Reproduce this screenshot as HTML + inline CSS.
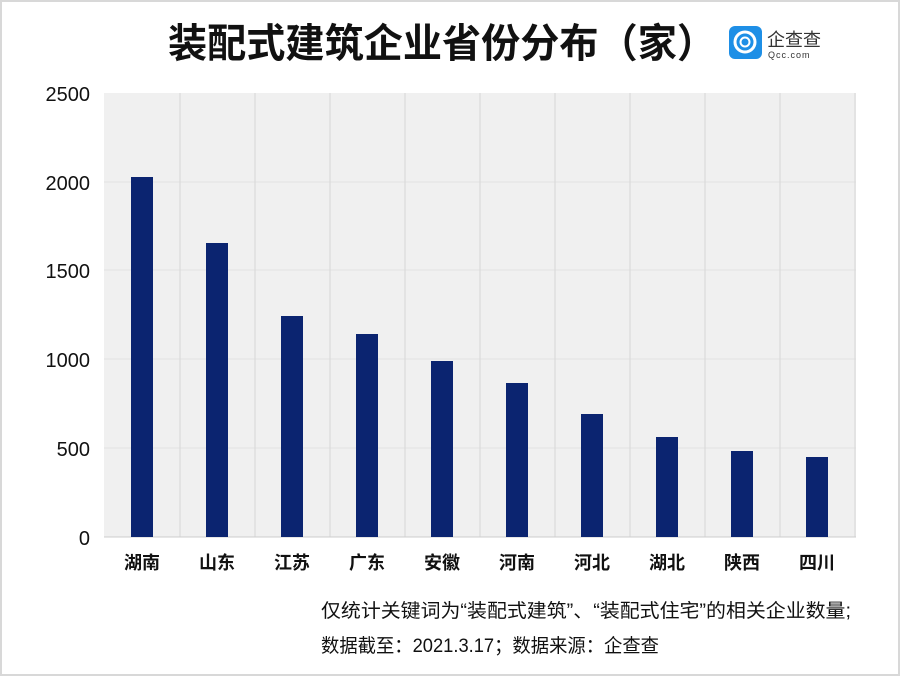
<!DOCTYPE html>
<html><head><meta charset="utf-8"><style>
html,body{margin:0;padding:0;background:#fff}
svg{display:block}
text{font-family:"Liberation Sans","Noto Sans CJK SC",sans-serif}
</style></head><body>
<svg width="900" height="676" viewBox="0 0 900 676" xmlns="http://www.w3.org/2000/svg">
<rect x="1" y="1" width="898" height="674" fill="#fff" stroke="#d8d8d8" stroke-width="2"/>
<text x="168" y="57" font-size="40" font-weight="bold" fill="#111" font-family="Noto Sans CJK SC, sans-serif" textLength="548" lengthAdjust="spacingAndGlyphs">装配式建筑企业省份分布（家）</text>
<rect x="729" y="26" width="33" height="33" rx="6" fill="#1e8fe6"/>
<circle cx="745" cy="42" r="10" fill="none" stroke="#fff" stroke-width="3"/>
<circle cx="745" cy="42" r="4.5" fill="none" stroke="#fff" stroke-width="2"/>
<text x="767" y="46" font-size="18" fill="#333" font-family="Noto Sans CJK SC, sans-serif">企查查</text>
<text x="768" y="58" font-size="9" fill="#333" letter-spacing="1">Qcc.com</text>
<rect x="104" y="93" width="752" height="444" fill="#f0f0f0"/>
<g stroke="#e2e2e2" stroke-width="1">
<line x1="104" y1="182" x2="856" y2="182"/><line x1="104" y1="270" x2="856" y2="270"/>
<line x1="104" y1="359" x2="856" y2="359"/><line x1="104" y1="448" x2="856" y2="448"/>
</g>
<g stroke="#d6d6d6" stroke-width="1">
<line x1="180" y1="93" x2="180" y2="537"/><line x1="255" y1="93" x2="255" y2="537"/>
<line x1="330" y1="93" x2="330" y2="537"/><line x1="405" y1="93" x2="405" y2="537"/>
<line x1="480" y1="93" x2="480" y2="537"/><line x1="555" y1="93" x2="555" y2="537"/>
<line x1="630" y1="93" x2="630" y2="537"/><line x1="705" y1="93" x2="705" y2="537"/>
<line x1="780" y1="93" x2="780" y2="537"/><line x1="855" y1="93" x2="855" y2="537"/>
</g>
<line x1="104" y1="537" x2="856" y2="537" stroke="#ccc"/>
<g fill="#0b2470">
<rect x="131" y="177" width="22" height="360"/>
<rect x="206" y="243" width="22" height="294"/>
<rect x="281" y="316" width="22" height="221"/>
<rect x="356" y="334" width="22" height="203"/>
<rect x="431" y="361" width="22" height="176"/>
<rect x="506" y="383" width="22" height="154"/>
<rect x="581" y="414" width="22" height="123"/>
<rect x="656" y="437" width="22" height="100"/>
<rect x="731" y="451" width="22" height="86"/>
<rect x="806" y="457" width="22" height="80"/>
</g>
<g font-size="20" fill="#111" text-anchor="end">
<text x="90" y="101">2500</text><text x="90" y="190">2000</text><text x="90" y="278">1500</text>
<text x="90" y="367">1000</text><text x="90" y="456">500</text><text x="90" y="545">0</text>
</g>
<g font-size="18" font-weight="bold" fill="#111" text-anchor="middle" font-family="Noto Sans CJK SC, sans-serif">
<text x="142" y="569">湖南</text><text x="217" y="569">山东</text><text x="292" y="569">江苏</text>
<text x="367" y="569">广东</text><text x="442" y="569">安徽</text><text x="517" y="569">河南</text>
<text x="592" y="569">河北</text><text x="667" y="569">湖北</text><text x="742" y="569">陕西</text>
<text x="817" y="569">四川</text>
</g>
<text x="321" y="617" font-size="19" fill="#111" font-family="Noto Sans CJK SC, sans-serif" textLength="530" lengthAdjust="spacingAndGlyphs">仅统计关键词为“装配式建筑”、“装配式住宅”的相关企业数量;</text>
<text x="321" y="652" font-size="19" fill="#111" font-family="Noto Sans CJK SC, sans-serif" textLength="338" lengthAdjust="spacingAndGlyphs">数据截至：2021.3.17；数据来源：企查查</text>
</svg>
</body></html>
